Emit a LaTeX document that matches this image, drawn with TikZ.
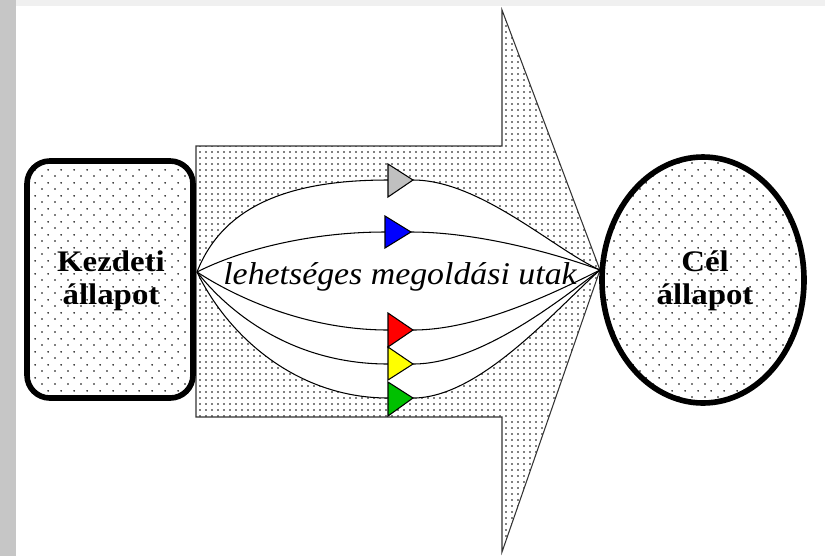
\documentclass[tikz,border=0pt]{standalone}
\usepackage{fontspec}
\setmainfont{Liberation Serif}
\usetikzlibrary{patterns.meta}
\tikzdeclarepattern{
  name=finedots,
  type=uncolored,
  bounding box={(0pt,0pt) and (3.4pt,3.4pt)},
  tile size={(3.4pt,3.4pt)},
  code={\fill (1.7pt,1.7pt) circle (0.5pt);}
}
\tikzdeclarepattern{
  name=sparsedots,
  type=uncolored,
  bounding box={(0pt,0pt) and (7.4pt,7.4pt)},
  tile size={(7.4pt,7.4pt)},
  code={\fill (1.85pt,1.85pt) circle (0.55pt); \fill (5.55pt,5.55pt) circle (0.55pt);}
}
\tikzset{
  thinline/.style={line width=0.6pt, draw=black},
  stateborder/.style={line width=3.2pt, draw=black, pattern=sparsedots, pattern color=black},
  boldlabel/.style={align=center, font=\fontsize{17pt}{18.7pt}\selectfont\bfseries, inner sep=0pt},
  pathlabel/.style={font=\fontsize{18pt}{20pt}\selectfont\itshape, inner sep=0pt},
  tri/.style={line width=0.6pt, draw=black},
}
\begin{document}
\begin{tikzpicture}[x=0.02cm,y=-0.02cm]
\useasboundingbox (0,0) rectangle (825,556);
% background
\fill[white] (0,0) rectangle (825,556);
\fill[gray!45] (0,0) rectangle (16,556);
\fill[gray!12] (16,0) rectangle (825,6);

% big arrow
\draw[thinline, draw=black!80, pattern=finedots, pattern color=black]
  (196,146) -- (502,146) -- (502,10) -- (600,270) -- (502,552) -- (502,417) -- (196,417) -- cycle;

% start box
\draw[stateborder, rounded corners=13] (27,161) rectangle (193,398);
\node[boldlabel] (start) at (111,281) {\scalebox{1.1}[1]{Kezdeti}\\\scalebox{1.1}[1]{állapot}};

% goal ellipse
\draw[stateborder] (703,280) ellipse [x radius=101, y radius=123];
\node[boldlabel] (goal) at (705,281) {\scalebox{1.1}[1]{Cél}\\\scalebox{1.1}[1]{állapot}};

\coordinate (L) at (197,272);
\coordinate (R) at (600,270);

% white lens between the outer paths
\fill[white] (L) .. controls (225,200) and (300,180) .. (388,180) -- (413,180)
   .. controls (480,180) and (555,250) .. (R)
   .. controls (555,310) and (480,398) .. (413,398) -- (388,398)
   .. controls (300,398) and (230,340) .. (L) -- cycle;

% paths
\draw[thinline] (L) .. controls (225,200) and (300,180) .. (388,180) coordinate (g1);
\draw[thinline] (413,180) coordinate (g2) .. controls (480,180) and (555,250) .. (R);
\draw[thinline] (L) .. controls (240,250) and (310,232) .. (385,232) coordinate (b1);
\draw[thinline] (411,232) coordinate (b2) .. controls (480,232) and (560,255) .. (R);
\draw[thinline] (L) .. controls (240,300) and (310,330) .. (388,330) coordinate (r1);
\draw[thinline] (413,330) coordinate (r2) .. controls (480,330) and (560,290) .. (R);
\draw[thinline] (L) .. controls (235,320) and (300,364) .. (388,364) coordinate (y1);
\draw[thinline] (413,364) coordinate (y2) .. controls (480,364) and (560,300) .. (R);
\draw[thinline] (L) .. controls (230,340) and (300,398) .. (388,398) coordinate (n1);
\draw[thinline] (413,398) coordinate (n2) .. controls (480,398) and (555,310) .. (R);

% triangles
\filldraw[tri, fill={rgb,255:red,192;green,192;blue,192}] (388,164) -- (413,180) -- (388,197) -- cycle;
\filldraw[tri, fill={rgb,255:red,0;green,0;blue,255}] (385,216) -- (411,232) -- (385,248) -- cycle;
\filldraw[tri, fill={rgb,255:red,255;green,0;blue,0}] (388,313) -- (413,330) -- (388,347) -- cycle;
\filldraw[tri, fill={rgb,255:red,255;green,255;blue,0}] (388,347) -- (413,364) -- (388,380) -- cycle;
\filldraw[tri, fill={rgb,255:red,0;green,192;blue,0}] (388,382) -- (413,398) -- (388,416) -- cycle;

% label
\node[pathlabel] (lbl) at (400,277) {\scalebox{1.07}[1]{lehetséges megoldási utak}};
\end{tikzpicture}
\end{document}
